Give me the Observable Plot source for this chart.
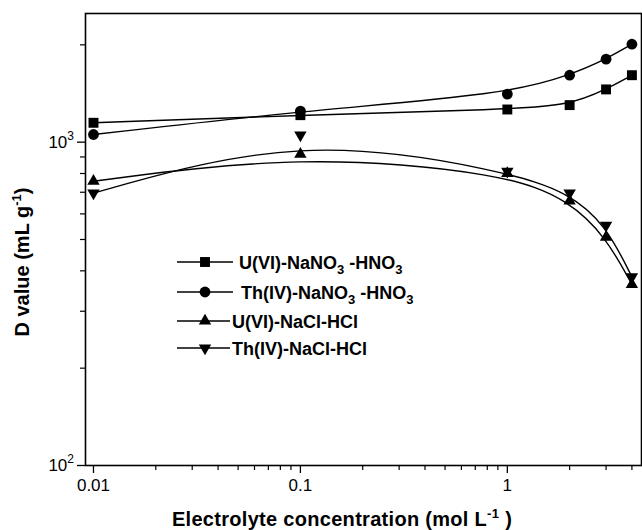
<!DOCTYPE html>
<html><head><meta charset="utf-8">
<script src="https://cdn.jsdelivr.net/npm/d3@7"></script>
<script src="https://cdn.jsdelivr.net/npm/@observablehq/plot@0.6"></script>
<style>
body{margin:0;background:#fff;}
#chart{position:relative;width:642px;height:530px;}
</style>
</head><body><div id="chart"></div>
<script>
// ---- data ----
const concentrations = [0.01, 0.1, 1, 2, 3, 4];
const seriesNames = ["U(VI)-NaNO3-HNO3", "Th(IV)-NaNO3-HNO3", "U(VI)-NaCl-HCl", "Th(IV)-NaCl-HCl"];
const uNaNO3 = [1148, 1212, 1262, 1302, 1456, 1611];
const thNaNO3 = [1056, 1248, 1408, 1611, 1806, 2009];
const uNaCl = [757, 918, 800, 658, 508, 363];
const thNaCl = [696, 1051, 813, 696, 553, 383];
const xMajorTicks = [0.01, 0.1, 1];
const xTickLabels = ["0.01", "0.1", "1"];
const xMinorTicks = [0.02, 0.03, 0.04, 0.05, 0.06, 0.07, 0.08, 0.09, 0.2, 0.3, 0.4, 0.5, 0.6, 0.7, 0.8, 0.9, 2, 3, 4];
const yMajorTicks = [100, 1000];
const yTickBase = ["10", "10"];
const yTickExp = ["2", "3"];
const yMinorTicks = [200, 300, 400, 500, 600, 700, 800, 900, 2000];

const seriesValues = [uNaNO3, thNaNO3, uNaCl, thNaCl];
const seriesSymbols = ["square", "circle", "triangle", "triangle"];
const seriesRotate = [0, 0, 0, 180];
const seriesR = [5.6, 5.4, 4.6, 4.6];

const rows = [];
seriesNames.forEach((s, si) => concentrations.forEach((c, i) => rows.push({series: s, x: c, y: seriesValues[si][i]})));

const FONT = "'Liberation Sans', Arial, Helvetica, sans-serif";
const W = 642, H = 530;

const marks = [
  Plot.line(rows, {x: "x", y: "y", z: "series", curve: "basis", stroke: "black", strokeWidth: 1.4}),
  ...seriesNames.map((s, si) => Plot.dot(rows.filter(d => d.series === s), {
    x: "x", y: "y", symbol: seriesSymbols[si], rotate: seriesRotate[si], r: seriesR[si], fill: "black", stroke: "none"
  })),
  Plot.axisX(xMajorTicks, {tickSize: 8, tickPadding: 5, tickFormat: d => xTickLabels[xMajorTicks.indexOf(d)], fontSize: 17, strokeWidth: 1.3, label: null}),
  Plot.axisX(xMinorTicks, {tickSize: 5, tickFormat: () => "", strokeWidth: 1.2, label: null}),
  Plot.axisY(yMajorTicks, {tickSize: 8, tickFormat: () => "", strokeWidth: 1.3, label: null}),
  Plot.axisY(yMinorTicks, {tickSize: 5, tickFormat: () => "", strokeWidth: 1.2, label: null}),
  Plot.frame({stroke: "black", strokeWidth: 1.6})
];

const chart = Plot.plot({
  width: W, height: H,
  marginLeft: 85, marginRight: 1, marginTop: 13, marginBottom: 65,
  style: {fontFamily: FONT, color: "black", background: "white", overflow: "visible"},
  x: {type: "log", domain: [0.00915, 4.45], label: null},
  y: {type: "log", domain: [100, 2500], label: null},
  marks
});
document.getElementById("chart").appendChild(chart);

// ---- y tick labels with superscript exponents, placed through Plot's y scale ----
const svg = d3.select(chart);
const yScale = chart.scale("y");
yMajorTicks.forEach((v, i) => {
  const t = svg.append("text").attr("x", 74).attr("y", yScale.apply(v) + 6)
    .attr("text-anchor", "end").attr("font-family", FONT).attr("font-size", 17).attr("fill", "black");
  t.append("tspan").text(yTickBase[i]);
  t.append("tspan").attr("font-size", 12).attr("dy", -8).text(yTickExp[i]);
});

// ---- titles ----
const xt = svg.append("text").attr("x", 342).attr("y", 526).attr("text-anchor", "middle")
  .attr("font-family", FONT).attr("font-weight", "bold").attr("font-size", 20).attr("letter-spacing", 0.3).attr("fill", "black");
xt.append("tspan").text("Electrolyte concentration (mol L");
xt.append("tspan").attr("font-size", 13).attr("dy", -8).text("-1");
xt.append("tspan").attr("dy", 8).text(" )");

const yt = svg.append("text").attr("transform", "translate(29,262) rotate(-90)").attr("text-anchor", "middle")
  .attr("font-family", FONT).attr("font-weight", "bold").attr("font-size", 20).attr("fill", "black");
yt.append("tspan").text("D value (mL g");
yt.append("tspan").attr("font-size", 13).attr("dy", -8).text("-1");
yt.append("tspan").attr("dy", 8).text(")");

// ---- legend ----
const legendRows = [
  {y: 262, x1: 177, x2: 233, tx: 239, parts: [["U(VI)-NaNO", 0], ["3", 1], [" -HNO", 0], ["3", 1]]},
  {y: 292, x1: 177, x2: 233, tx: 241, parts: [["Th(IV)-NaNO", 0], ["3", 1], [" -HNO", 0], ["3", 1]]},
  {y: 321, x1: 177, x2: 230, tx: 232, parts: [["U(VI)-NaCl-HCl", 0]]},
  {y: 348, x1: 177, x2: 230, tx: 232, parts: [["Th(IV)-NaCl-HCl", 0]]}
];
const symTypes = {square: d3.symbolSquare, circle: d3.symbolCircle, triangle: d3.symbolTriangle};
const lg = svg.append("g");
legendRows.forEach((row, i) => {
  lg.append("line").attr("x1", row.x1).attr("x2", row.x2).attr("y1", row.y).attr("y2", row.y)
    .attr("stroke", "black").attr("stroke-width", 1.4);
  lg.append("path").attr("d", d3.symbol(symTypes[seriesSymbols[i]], Math.PI * seriesR[i] * seriesR[i])())
    .attr("transform", `translate(205,${row.y}) rotate(${seriesRotate[i]})`).attr("fill", "black");
  const t = lg.append("text").attr("x", row.tx).attr("y", row.y + 6.5).attr("text-anchor", "start")
    .attr("font-family", FONT).attr("font-weight", "bold").attr("font-size", 18).attr("fill", "black");
  let prevSub = 0;
  row.parts.forEach(([txt, sub]) => {
    const dy = sub === prevSub ? 0 : (sub ? 5 : -5);
    const sp = t.append("tspan").attr("dy", dy).text(txt);
    if (sub) sp.attr("font-size", 13);
    prevSub = sub;
  });
});
</script>
</body></html>
